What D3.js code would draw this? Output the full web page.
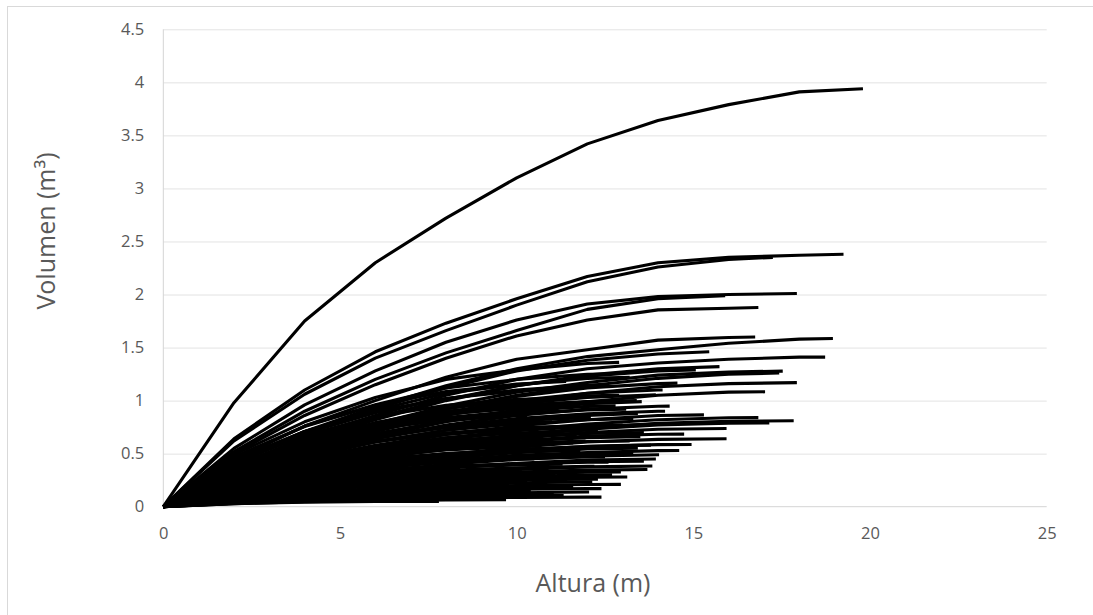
<!DOCTYPE html>
<html>
<head>
<meta charset="utf-8">
<script src="https://cdn.jsdelivr.net/npm/d3@7"></script>
<style>
  html, body { margin: 0; padding: 0; background: #ffffff; }
  svg { display: block; }
  text { font-family: "Open Sans", "Noto Sans", sans-serif; }
</style>
</head>
<body>
<svg id="chart" width="1093" height="615"></svg>
<script>
// ---------------- DATA ----------------
const xTicks = [0, 5, 10, 15, 20, 25];
const yTicks = [0, 0.5, 1, 1.5, 2, 2.5, 3, 3.5, 4, 4.5];
const xTitle = "Altura (m)";
const yTitle = "Volumen (m³)";

// section heights (m); the last value of each tree sits at its total height
const alturasSeccion = [0, 2, 4, 6, 8, 10, 12, 14, 16, 18];

const alturaTotal = [
  19.8, 19.25, 17.25, 17.93, 15.9, 16.84, 16.75, 18.95, 15.45, 18.73,
  15.74, 17.53, 17.43, 17.93, 17.03, 13.94, 13.54, 14.33, 14.55, 14.13,
  15.07, 13.43, 15.3, 16.84, 17.84, 17.15, 15.94, 14.74, 15.94, 14.95,
  13.43, 14.03, 13.94, 13.84, 12.95, 13.13, 12.14, 11.25, 12.05, 11.33,
  9.17, 7.8, 12.5, 11.8, 12.8, 11.0, 12.3, 10.6, 11.6, 10.2,
  12.6, 9.8, 11.9, 10.8, 9.5, 12.4, 10.4, 13.2, 13.0, 12.9,
  8.6, 13.6, 14.4, 10.9, 13.3, 8.2, 9.0, 10.1, 11.1, 9.3,
  12.2, 10.5, 11.4, 12.7, 9.9, 11.7, 12.1, 10.8, 13.1, 11.5,
  12.9, 10.3, 8.8, 7.4, 8.1, 13.5, 12.3, 11.05, 9.7, 12.95,
  11.8, 12.6, 10.9, 13.7, 12.4, 11.2, 11.95, 13.3, 10.7, 9.6,
  12.5, 11.3, 10.15, 13.8, 12.8, 11.6, 9.2, 13.4, 12.2, 10.6,
  14.2, 11.4, 13.2, 8.4, 12.7, 10.3, 9.4, 11.6, 13.6, 14.6
];

const arbol01 = [0, 0.98, 1.75, 2.30, 2.72, 3.10, 3.42, 3.64, 3.79, 3.91, 3.94];
const arbol02 = [0, 0.64, 1.10, 1.46, 1.73, 1.96, 2.17, 2.30, 2.35, 2.37, 2.38];
const arbol03 = [0, 0.62, 1.06, 1.40, 1.66, 1.90, 2.12, 2.26, 2.33, 2.35];
const arbol04 = [0, 0.55, 0.96, 1.28, 1.55, 1.76, 1.91, 1.98, 2.00, 2.01];
const arbol05 = [0, 0.52, 0.90, 1.20, 1.45, 1.66, 1.86, 1.96, 1.99];
const arbol06 = [0, 0.50, 0.86, 1.15, 1.40, 1.61, 1.76, 1.855, 1.87, 1.877];
const arbol07 = [0, 0.44, 0.76, 1.00, 1.22, 1.39, 1.48, 1.57, 1.595, 1.60];
const arbol08 = [0, 0.41, 0.71, 0.94, 1.14, 1.30, 1.415, 1.48, 1.54, 1.58, 1.585];
const arbol09 = [0, 0.40, 0.70, 0.92, 1.12, 1.28, 1.38, 1.44, 1.46];
const arbol10 = [0, 0.38, 0.65, 0.86, 1.05, 1.20, 1.30, 1.355, 1.39, 1.41, 1.41];
const arbol11 = [0, 0.36, 0.62, 0.82, 1.00, 1.14, 1.24, 1.30, 1.32];
const arbol12 = [0, 0.34, 0.59, 0.78, 0.95, 1.08, 1.17, 1.24, 1.27, 1.278];
const arbol13 = [0, 0.33, 0.57, 0.76, 0.92, 1.05, 1.14, 1.21, 1.25, 1.26];
const arbol14 = [0, 0.31, 0.53, 0.71, 0.86, 0.98, 1.07, 1.13, 1.16, 1.17];
const arbol15 = [0, 0.29, 0.49, 0.66, 0.80, 0.91, 0.99, 1.05, 1.08, 1.083];
const arbol16 = [0, 0.32, 0.56, 0.73, 0.87, 0.97, 1.03, 1.055];
const arbol17 = [0, 0.30, 0.52, 0.68, 0.81, 0.91, 0.97, 0.99];
const arbol18 = [0, 0.28, 0.49, 0.64, 0.77, 0.86, 0.92, 0.947, 0.948];
const arbol19 = [0, 0.33, 0.58, 0.77, 0.92, 1.04, 1.12, 1.16, 1.165];
const arbol20 = [0, 0.32, 0.56, 0.74, 0.89, 1.00, 1.07, 1.10, 1.10];
const arbol21 = [0, 0.36, 0.63, 0.84, 1.01, 1.14, 1.23, 1.28, 1.29];
const arbol22 = [0, 0.27, 0.46, 0.61, 0.72, 0.81, 0.86, 0.88];
const arbol23 = [0, 0.25, 0.43, 0.56, 0.68, 0.76, 0.82, 0.86, 0.866];
const arbol24 = [0, 0.23, 0.39, 0.52, 0.63, 0.72, 0.78, 0.82, 0.838, 0.84];
const arbol25 = [0, 0.22, 0.37, 0.50, 0.60, 0.68, 0.74, 0.785, 0.805, 0.81];
const arbol26 = [0, 0.21, 0.36, 0.49, 0.59, 0.67, 0.73, 0.77, 0.787, 0.79];
const arbol27 = [0, 0.20, 0.35, 0.47, 0.57, 0.64, 0.70, 0.73, 0.737];
const arbol28 = [0, 0.20, 0.34, 0.46, 0.55, 0.62, 0.665, 0.683, 0.684];
const arbol29 = [0, 0.18, 0.31, 0.41, 0.49, 0.56, 0.61, 0.635, 0.64];
const arbol30 = [0, 0.17, 0.29, 0.39, 0.47, 0.53, 0.57, 0.585, 0.587];
const arbol31 = [0, 0.17, 0.29, 0.38, 0.46, 0.51, 0.545, 0.552];
const arbol32 = [0, 0.15, 0.25, 0.33, 0.40, 0.445, 0.475, 0.49, 0.49];
const arbol33 = [0, 0.14, 0.23, 0.31, 0.37, 0.41, 0.44, 0.449];
const arbol34 = [0, 0.12, 0.20, 0.26, 0.315, 0.35, 0.375, 0.383];
const arbol35 = [0, 0.10, 0.18, 0.23, 0.28, 0.31, 0.326, 0.327];
const arbol36 = [0, 0.09, 0.15, 0.20, 0.24, 0.265, 0.279, 0.28];
const arbol37 = [0, 0.08, 0.13, 0.17, 0.20, 0.225, 0.235, 0.235];
const arbol38 = [0, 0.07, 0.12, 0.155, 0.18, 0.197, 0.20];
const arbol39 = [0, 0.045, 0.075, 0.10, 0.12, 0.132, 0.138, 0.138];
const arbol40 = [0, 0.035, 0.06, 0.08, 0.095, 0.105, 0.106];
const arbol41 = [0, 0.032, 0.055, 0.068, 0.074, 0.075];
const arbol42 = [0, 0.028, 0.043, 0.049, 0.05];
const arbol43 = [0, 0.46, 0.76, 0.96, 1.12, 1.20, 1.248, 1.25];
const arbol44 = [0, 0.44, 0.71, 0.90, 1.02, 1.09, 1.12];
const arbol45 = [0, 0.34, 0.56, 0.72, 0.84, 0.90, 0.946, 0.95];
const arbol46 = [0, 0.32, 0.52, 0.66, 0.745, 0.79, 0.80];
const arbol47 = [0, 0.27, 0.44, 0.56, 0.65, 0.695, 0.72, 0.72];
const arbol48 = [0, 0.27, 0.44, 0.55, 0.61, 0.647, 0.65];
const arbol49 = [0, 0.23, 0.38, 0.49, 0.55, 0.59, 0.60];
const arbol50 = [0, 0.22, 0.35, 0.45, 0.50, 0.52, 0.52];
const arbol51 = [0, 0.155, 0.25, 0.32, 0.375, 0.40, 0.419, 0.42];
const arbol52 = [0, 0.18, 0.28, 0.35, 0.386, 0.40];
const arbol53 = [0, 0.13, 0.21, 0.26, 0.30, 0.32, 0.33];
const arbol54 = [0, 0.11, 0.18, 0.225, 0.25, 0.269, 0.27];
const arbol55 = [0, 0.10, 0.156, 0.196, 0.213, 0.22];
const arbol56 = [0, 0.063, 0.104, 0.131, 0.153, 0.164, 0.17, 0.17];
const arbol57 = [0, 0.063, 0.10, 0.128, 0.142, 0.15, 0.15];
const arbol58 = [0, 0.22, 0.36, 0.46, 0.54, 0.585, 0.615, 0.62];
const arbol59 = [0, 0.28, 0.45, 0.58, 0.68, 0.73, 0.765, 0.77];
const arbol60 = [0, 0.49, 0.80, 1.03, 1.20, 1.29, 1.35, 1.36];
const arbol61 = [0, 0.059, 0.09, 0.11, 0.119, 0.12];
const arbol62 = [0, 0.24, 0.40, 0.51, 0.60, 0.655, 0.69, 0.70];
const arbol63 = [0, 0.26, 0.43, 0.55, 0.65, 0.716, 0.757, 0.78, 0.78];
const arbol64 = [0, 0.145, 0.24, 0.30, 0.337, 0.357, 0.36];
const arbol65 = [0, 0.175, 0.29, 0.37, 0.435, 0.47, 0.495, 0.50];
const arbol66 = [0, 0.045, 0.070, 0.084, 0.09, 0.09];
const arbol67 = [0, 0.075, 0.118, 0.145, 0.158, 0.16];
const arbol68 = [0, 0.11, 0.171, 0.216, 0.239, 0.25, 0.25];
const arbol69 = [0, 0.12, 0.195, 0.248, 0.279, 0.297, 0.30];
const arbol70 = [0, 0.156, 0.245, 0.306, 0.333, 0.34];
const arbol71 = [0, 0.144, 0.232, 0.296, 0.342, 0.367, 0.38, 0.38];
const arbol72 = [0, 0.19, 0.30, 0.38, 0.425, 0.449, 0.45];
const arbol73 = [0, 0.19, 0.307, 0.39, 0.44, 0.47, 0.48];
const arbol74 = [0, 0.204, 0.335, 0.425, 0.50, 0.535, 0.558, 0.56];
const arbol75 = [0, 0.255, 0.40, 0.507, 0.56, 0.58];
const arbol76 = [0, 0.265, 0.43, 0.545, 0.622, 0.665, 0.68];
const arbol77 = [0, 0.32, 0.517, 0.66, 0.76, 0.813, 0.84, 0.84];
const arbol78 = [0, 0.30, 0.49, 0.62, 0.69, 0.735, 0.74];
const arbol79 = [0, 0.33, 0.54, 0.69, 0.805, 0.87, 0.913, 0.92];
const arbol80 = [0, 0.39, 0.63, 0.79, 0.90, 0.96, 0.98];
const arbol81 = [0, 0.38, 0.62, 0.79, 0.925, 1.00, 1.045, 1.05];
const arbol82 = [0, 0.37, 0.585, 0.735, 0.817, 0.86, 0.86];
const arbol83 = [0, 0.21, 0.328, 0.40, 0.436, 0.44];
const arbol84 = [0, 0.108, 0.164, 0.193, 0.20];
const arbol85 = [0, 0.15, 0.235, 0.28, 0.30, 0.30];
const arbol86 = [0, 0.228, 0.38, 0.485, 0.571, 0.617, 0.65, 0.66];
const arbol87 = [0, 0.098, 0.159, 0.203, 0.234, 0.251, 0.26, 0.26];
const arbol88 = [0, 0.048, 0.078, 0.099, 0.112, 0.119, 0.12];
const arbol89 = [0, 0.029, 0.046, 0.057, 0.063, 0.065];
const arbol90 = [0, 0.076, 0.124, 0.159, 0.185, 0.20, 0.209, 0.21];
const arbol91 = [0, 0.207, 0.334, 0.424, 0.482, 0.517, 0.53];
const arbol92 = [0, 0.425, 0.69, 0.885, 1.02, 1.10, 1.147, 1.15];
const arbol93 = [0, 0.41, 0.67, 0.85, 0.955, 1.013, 1.02];
const arbol94 = [0, 0.119, 0.198, 0.255, 0.30, 0.326, 0.345, 0.35];
const arbol95 = [0, 0.033, 0.055, 0.069, 0.081, 0.087, 0.09, 0.09];
const arbol96 = [0, 0.36, 0.58, 0.74, 0.83, 0.89, 0.90];
const arbol97 = [0, 0.24, 0.385, 0.49, 0.56, 0.60, 0.62];
const arbol98 = [0, 0.29, 0.48, 0.615, 0.72, 0.78, 0.82, 0.83];
const arbol99 = [0, 0.237, 0.38, 0.476, 0.536, 0.567, 0.57];
const arbol100 = [0, 0.225, 0.353, 0.443, 0.485, 0.50];
const arbol101 = [0, 0.174, 0.284, 0.362, 0.42, 0.451, 0.469, 0.47];
const arbol102 = [0, 0.16, 0.258, 0.326, 0.37, 0.394, 0.40];
const arbol103 = [0, 0.144, 0.226, 0.285, 0.315, 0.33, 0.33];
const arbol104 = [0, 0.197, 0.328, 0.42, 0.496, 0.54, 0.568, 0.58];
const arbol105 = [0, 0.25, 0.41, 0.53, 0.62, 0.665, 0.697, 0.70];
const arbol106 = [0, 0.30, 0.48, 0.61, 0.695, 0.745, 0.76];
const arbol107 = [0, 0.29, 0.45, 0.56, 0.61, 0.62];
const arbol108 = [0, 0.35, 0.58, 0.74, 0.87, 0.94, 0.99, 1.00];
const arbol109 = [0, 0.375, 0.605, 0.77, 0.89, 0.955, 0.99, 0.99];
const arbol110 = [0, 0.39, 0.62, 0.79, 0.875, 0.926, 0.93];
const arbol111 = [0, 0.30, 0.495, 0.64, 0.755, 0.83, 0.875, 0.90, 0.90];
const arbol112 = [0, 0.47, 0.755, 0.955, 1.085, 1.156, 1.18];
const arbol113 = [0, 0.43, 0.71, 0.91, 1.07, 1.15, 1.21, 1.22];
const arbol114 = [0, 0.178, 0.275, 0.333, 0.359, 0.36];
const arbol115 = [0, 0.11, 0.18, 0.228, 0.267, 0.287, 0.299, 0.30];
const arbol116 = [0, 0.099, 0.156, 0.197, 0.219, 0.23, 0.23];
const arbol117 = [0, 0.129, 0.20, 0.25, 0.273, 0.28];
const arbol118 = [0, 0.074, 0.12, 0.152, 0.174, 0.186, 0.19];
const arbol119 = [0, 0.148, 0.245, 0.314, 0.37, 0.402, 0.424, 0.43];
const arbol120 = [0, 0.172, 0.289, 0.371, 0.44, 0.485, 0.511, 0.529, 0.53];

const volumenArbol = [
  arbol01, arbol02, arbol03, arbol04, arbol05, arbol06, arbol07, arbol08, arbol09, arbol10,
  arbol11, arbol12, arbol13, arbol14, arbol15, arbol16, arbol17, arbol18, arbol19, arbol20,
  arbol21, arbol22, arbol23, arbol24, arbol25, arbol26, arbol27, arbol28, arbol29, arbol30,
  arbol31, arbol32, arbol33, arbol34, arbol35, arbol36, arbol37, arbol38, arbol39, arbol40,
  arbol41, arbol42, arbol43, arbol44, arbol45, arbol46, arbol47, arbol48, arbol49, arbol50,
  arbol51, arbol52, arbol53, arbol54, arbol55, arbol56, arbol57, arbol58, arbol59, arbol60,
  arbol61, arbol62, arbol63, arbol64, arbol65, arbol66, arbol67, arbol68, arbol69, arbol70,
  arbol71, arbol72, arbol73, arbol74, arbol75, arbol76, arbol77, arbol78, arbol79, arbol80,
  arbol81, arbol82, arbol83, arbol84, arbol85, arbol86, arbol87, arbol88, arbol89, arbol90,
  arbol91, arbol92, arbol93, arbol94, arbol95, arbol96, arbol97, arbol98, arbol99, arbol100,
  arbol101, arbol102, arbol103, arbol104, arbol105, arbol106, arbol107, arbol108, arbol109, arbol110,
  arbol111, arbol112, arbol113, arbol114, arbol115, arbol116, arbol117, arbol118, arbol119, arbol120
];

// ---------------- LAYOUT ----------------
const svg = d3.select("#chart");
const W = 1093, H = 615;
const plot = { left: 163.3, right: 1046.7, top: 29.3, bottom: 506.7 };

svg.append("rect").attr("width", W).attr("height", H).attr("fill", "#ffffff");
// outer chart-area border
svg.append("rect")
  .attr("x", 7.5).attr("y", 6.5).attr("width", 1100).attr("height", 640)
  .attr("fill", "none").attr("stroke", "#d9d9d9").attr("stroke-width", 1);

const x = d3.scaleLinear().domain([0, 25]).range([plot.left, plot.right]);
const y = d3.scaleLinear().domain([0, 4.5]).range([plot.bottom, plot.top]);

// gridlines
svg.append("g")
  .attr("transform", `translate(${plot.left},0)`)
  .call(d3.axisLeft(y).tickValues(yTicks.filter(d => d > 0)).tickSize(-(plot.right - plot.left)).tickFormat(""))
  .call(g => g.select(".domain").remove())
  .call(g => g.selectAll("line").attr("stroke", "#e3e3e3").attr("stroke-width", 1));

// y axis labels
const yAxis = svg.append("g")
  .attr("transform", `translate(${plot.left},0)`)
  .call(d3.axisLeft(y).tickValues(yTicks).tickSize(0).tickPadding(19).tickFormat(d => String(d)));
yAxis.select(".domain").remove();
yAxis.selectAll("text")
  .attr("fill", "#595959").style("font-size", "16.5px").style("font-family", "'Open Sans', sans-serif");

// x axis labels
const xAxis = svg.append("g")
  .attr("transform", `translate(0,${plot.bottom})`)
  .call(d3.axisBottom(x).tickValues(xTicks).tickSize(0).tickPadding(21).tickFormat(d => String(d)));
xAxis.select(".domain").remove();
xAxis.selectAll("text")
  .attr("fill", "#595959").style("font-size", "16.5px").style("font-family", "'Open Sans', sans-serif");

// axis lines
svg.append("line")
  .attr("x1", plot.left).attr("x2", plot.left).attr("y1", plot.top).attr("y2", plot.bottom)
  .attr("stroke", "#d4d4d4").attr("stroke-width", 1);
svg.append("line")
  .attr("x1", plot.left).attr("x2", plot.right).attr("y1", plot.bottom).attr("y2", plot.bottom)
  .attr("stroke", "#d4d4d4").attr("stroke-width", 1);

// curves
const line = d3.line().x(d => x(d[0])).y(d => y(d[1]));
const series = volumenArbol.map((vals, k) =>
  vals.map((v, i) => i < vals.length - 1 ? [alturasSeccion[i], v] : [alturaTotal[k], v])
);
svg.append("g")
  .selectAll("path")
  .data(series)
  .join("path")
  .attr("d", line)
  .attr("fill", "none")
  .attr("stroke", "#000000")
  .attr("stroke-width", 3.1)
  .attr("stroke-linejoin", "round")
  .attr("stroke-linecap", "butt");

// axis titles
svg.append("text")
  .attr("x", 593).attr("y", 592)
  .attr("text-anchor", "middle")
  .attr("fill", "#595959")
  .style("font-size", "25px")
  .text(xTitle);

svg.append("text")
  .attr("transform", `translate(55,231) rotate(-90)`)
  .attr("text-anchor", "middle")
  .attr("fill", "#595959")
  .style("font-size", "25px")
  .text(yTitle);
</script>
</body>
</html>
